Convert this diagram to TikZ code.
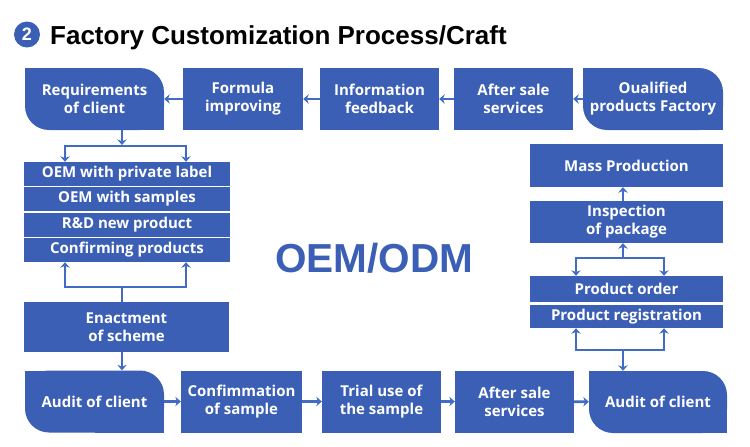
\documentclass[tikz,border=0pt]{standalone}
\usepackage{fontspec}
\setmainfont{Liberation Sans}
\newfontfamily\boxfont{Open Sans}
\usepackage{tikz}
\usetikzlibrary{calc,arrows.meta}
\definecolor{boxblue}{RGB}{59,95,181}
\definecolor{flowblue}{RGB}{66,108,195}

\begin{document}
\begin{tikzpicture}[x=1pt,y=-1pt,
  box/.style={fill=boxblue,text=white,inner sep=0pt,align=center,font={\boxfont\bfseries\fontsize{15}{18}\selectfont}},
  softbox/.style={box,fill=none,path picture={
    \fill[boxblue,rounded corners=24pt] (path picture bounding box.south west) rectangle (path picture bounding box.north east);
    \fill[boxblue] (path picture bounding box.north west) rectangle (path picture bounding box.center);
    \fill[boxblue] (path picture bounding box.south east) rectangle (path picture bounding box.center);}},
  link/.style={draw=flowblue,line width=2.8pt},
  flow/.style={link,-{Stealth[length=5.5pt,width=9.5pt]}},
  twoway/.style={link,{Stealth[length=5.5pt,width=9.5pt]}-{Stealth[length=5.5pt,width=9.5pt]}}]
\useasboundingbox (0,0) rectangle (750,447);

% title
\node[circle,fill=boxblue,minimum size=26pt,inner sep=0pt,text=white,font=\bfseries\fontsize{18}{18}\selectfont] (num) at (27,34.5) {2};
\node[anchor=base west,inner sep=0pt,font=\bfseries\fontsize{26}{26}\selectfont] (title) at (50,44) {Factory Customization Process/Craft};

% top row, right to left
\node[softbox,minimum width=139pt,minimum height=62pt] (req) at (94.5,99) {Requirements\\of client};
\node[box,minimum width=120pt,minimum height=62pt] (formula) at (243,99) {Formula\\improving};
\node[box,minimum width=119pt,minimum height=62pt] (info) at (379.5,99) {Information\\feedback};
\node[box,minimum width=119pt,minimum height=62pt] (after) at (513.5,99) {After sale\\services};
\node[softbox,minimum width=140pt,minimum height=62pt] (qualified) at (653,99) {Oualified\\products Factory};
\draw[flow] (qualified) -- (after);
\draw[flow] (after) -- (info);
\draw[flow] (info) -- (formula);
\draw[flow] (formula) -- (req);

% left column
\node[box,minimum width=206pt,minimum height=24pt] (private) at (127,174) {OEM with private label};
\node[box,minimum width=206pt,minimum height=24pt] (samples) at (127,199) {OEM with samples};
\node[box,minimum width=206pt,minimum height=24pt] (newprod) at (127,224.5) {R\&D new product};
\node[box,minimum width=206pt,minimum height=24pt] (confirming) at (127,250) {Confirming products};
\node[box,minimum width=205pt,minimum height=50pt] (enact) at (126.5,327) {Enactment\\of scheme};
\coordinate (oemM) at (122,146);
\coordinate (oemL) at (65,146);
\coordinate (oemR) at (186,146);
\coordinate (confM) at (122,287);
\coordinate (confL) at (65,287);
\coordinate (confR) at (186,287);
\draw[flow,shorten >=1pt] (req.south -| oemM) -- (oemM);
\draw[twoway] (private.north -| oemL) -- (oemL) -- (oemR) -- (private.north -| oemR);
\draw[twoway] (confirming.south -| confL) -- (confL) -- (confR) -- (confirming.south -| confR);
\draw[link] (confM) -- (enact.north -| confM);

% right column
\node[box,minimum width=193pt,minimum height=43pt] (mass) at (626.5,165.5) {Mass Production};
\node[box,minimum width=193pt,minimum height=42pt] (insp) at (626.5,222) {Inspection\\of package};
\node[box,minimum width=193pt,minimum height=26pt] (order) at (626.5,289) {Product order};
\node[box,minimum width=193pt,minimum height=23pt] (reg) at (626.5,316.5) {Product registration};
\coordinate (ordM) at (623,258);
\coordinate (ordL) at (576,258);
\coordinate (ordR) at (664,258);
\coordinate (regM) at (623,350);
\coordinate (regL) at (576,350);
\coordinate (regR) at (664,350);
\draw[flow] (insp.north -| ordM) -- (mass.south -| ordM);
\draw[flow] (ordM) -- (insp.south -| ordM);
\draw[twoway] (order.north -| ordL) -- (ordL) -- (ordR) -- (order.north -| ordR);
\draw[twoway] (reg.south -| regL) -- (regL) -- (regR) -- (reg.south -| regR);

% bottom row, left to right
\node[softbox,minimum width=139pt,minimum height=62pt] (audit) at (94.5,401.5) {Audit of client};
\node[box,minimum width=121pt,minimum height=62pt] (confirm) at (241.5,401.5) {Confimmation\\of sample};
\node[box,minimum width=119pt,minimum height=62pt] (trial) at (381.5,401.5) {Trial use of\\the sample};
\node[box,minimum width=119pt,minimum height=62pt] (service) at (514.5,401.5) {After sale\\services};
\node[softbox,minimum width=138pt,minimum height=62pt] (check) at (658,402) {Audit of client};
\draw[flow] (confM |- enact.south) -- (confM |- audit.north);
\draw[flow] (audit) -- (confirm);
\draw[flow] (confirm) -- (trial);
\draw[flow] (trial) -- (service);
\draw[flow] (service) -- (check);
\draw[flow] (regM) -- (regM |- check.north);

\node[anchor=base,inner sep=0pt,text=boxblue,font=\bfseries\fontsize{40.5}{40}\selectfont] (oem) at (374,272) {OEM/ODM};
\end{tikzpicture}
\end{document}
